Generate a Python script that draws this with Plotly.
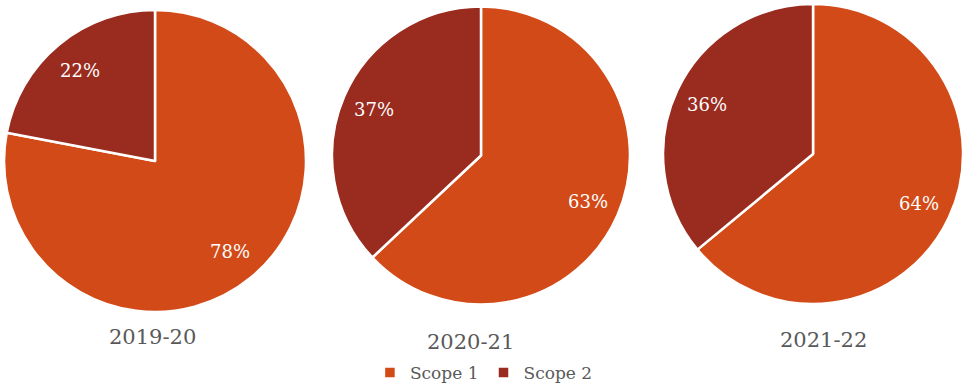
import math
import plotly.graph_objects as go

# Share of emissions by scope, per financial year (percent)
years = ["2019-20", "2020-21", "2021-22"]
scopes = ["Scope 1", "Scope 2"]
scope1 = [78, 63, 64]
scope2 = [22, 37, 36]

colors = ["#D24A18", "#9A2B1F"]
font_family = "DejaVu Serif"
W, H = 964, 385

# Pie placement (paper domains) and caption positions
domains = [
    dict(x=[0.0042, 0.3174], y=[0.1896, 0.9740]),
    dict(x=[0.3444, 0.6535], y=[0.2091, 0.9831]),
    dict(x=[0.6878, 0.9990], y=[0.2104, 0.9896]),
]
caption_xy = [(0.158, 0.125), (0.488, 0.112), (0.854, 0.117)]
label_radius = 0.78

fig = go.Figure()
annotations = []
for i, year in enumerate(years):
    vals = [scope1[i], scope2[i]]
    dom = domains[i]
    fig.add_trace(go.Pie(
        labels=scopes,
        values=vals,
        domain=dom,
        sort=False,
        direction="clockwise",
        rotation=0,
        marker=dict(colors=colors, line=dict(color="white", width=2.5)),
        textinfo="none",
        hoverinfo="label+percent",
        showlegend=(i == 0),
        name=year,
    ))

    # percentage labels placed along each slice's bisector
    cx = (dom["x"][0] + dom["x"][1]) / 2
    cy = (dom["y"][0] + dom["y"][1]) / 2
    r_px = min((dom["x"][1] - dom["x"][0]) * W, (dom["y"][1] - dom["y"][0]) * H) / 2
    total = sum(vals)
    cum = 0
    for v in vals:
        mid = (cum + v / 2) / total * 2 * math.pi
        cum += v
        dx = label_radius * r_px * math.sin(mid) / W
        dy = label_radius * r_px * math.cos(mid) / H
        annotations.append(dict(
            x=cx + dx, y=cy + dy, xref="paper", yref="paper",
            text=f"{round(v / total * 100)}%", showarrow=False,
            font=dict(family=font_family, size=18, color="white"),
            xanchor="center", yanchor="middle",
        ))

    annotations.append(dict(
        x=caption_xy[i][0], y=caption_xy[i][1], xref="paper", yref="paper",
        text=year, showarrow=False,
        font=dict(family=font_family, size=21, color="#595959"),
        xanchor="center", yanchor="middle",
    ))

fig.update_layout(
    width=W, height=H,
    margin=dict(l=0, r=0, t=0, b=0, autoexpand=False),
    paper_bgcolor="white",
    plot_bgcolor="white",
    annotations=annotations,
    legend=dict(
        orientation="h",
        x=0.502, xanchor="center",
        y=0.031, yanchor="middle",
        font=dict(family=font_family, size=17, color="#595959"),
        itemwidth=30,
        traceorder="normal",
    ),
)

fig.write_html("out.html")
